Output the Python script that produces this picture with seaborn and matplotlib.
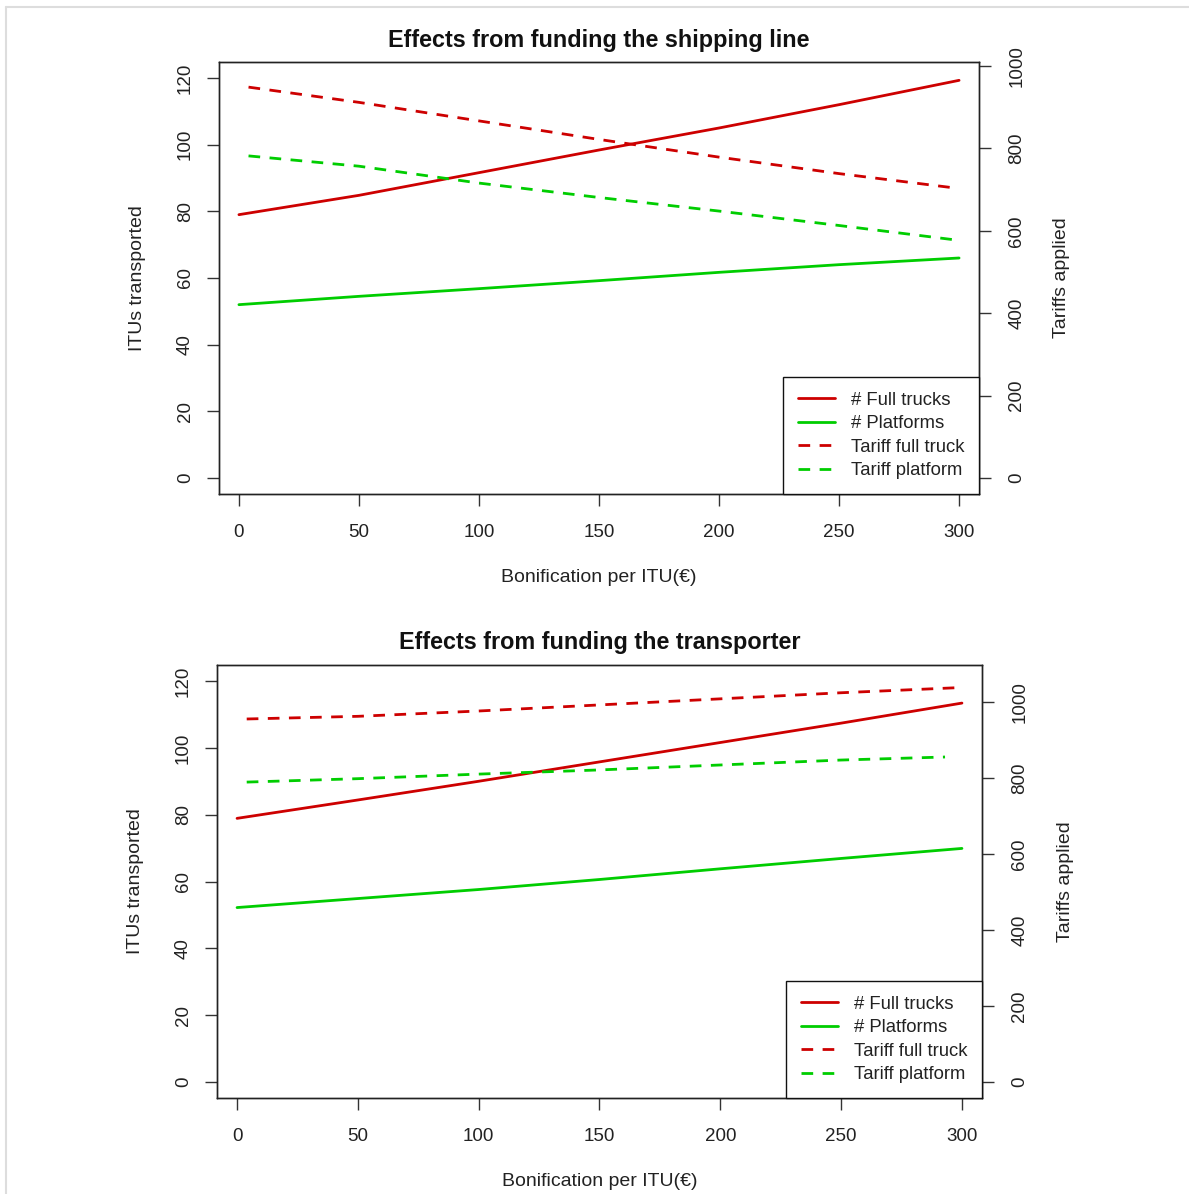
import numpy as np
import pandas as pd
import matplotlib
matplotlib.use("Agg")
import matplotlib.pyplot as plt
from matplotlib.lines import Line2D
import seaborn as sns

# --- data ---
bonus_itu = [0, 50, 100, 150, 200, 250, 300]

# panel 1: funding the shipping line
ship_trucks = [79, 84.8, 91.6, 98.4, 105, 112, 119.3]
ship_platforms = [52, 54.5, 56.8, 59.2, 61.7, 64.0, 66.0]
ship_bonus_tariff = [4, 50, 100, 150, 200, 250, 297]
ship_tariff_truck = [949, 912, 867, 822, 779, 739, 705]
ship_tariff_platform = [782, 757, 716, 681, 648, 613, 579]

# panel 2: funding the transporter
trans_trucks = [78.9, 84.4, 90.0, 95.8, 101.6, 107.4, 113.4]
trans_platforms = [52.2, 54.9, 57.6, 60.6, 63.8, 66.9, 69.9]
trans_bonus_truck = [4, 50, 100, 150, 200, 250, 297]
trans_tariff_truck = [955, 962, 976, 992, 1008, 1024, 1037]
trans_bonus_platform = [4, 50, 100, 150, 200, 250, 293]
trans_tariff_platform = [789, 798, 810, 821, 834, 847, 855]

titles = ["Effects from funding the shipping line", "Effects from funding the transporter"]
legend_labels = ["# Full trucks", "# Platforms", "Tariff full truck", "Tariff platform"]

RED = "#CD0000"
GREEN = "#00CD00"
DASH = (0, (4.2, 3.4))
LW = 2.0

sns.set_style("ticks")
plt.rcParams["font.family"] = ["Liberation Sans", "DejaVu Sans"]

W, H = 1189, 1194
fig = plt.figure(figsize=(W / 100, H / 100), dpi=100)
fig.patch.set_facecolor("white")


def px_axes(left, top, right, bottom):
    return fig.add_axes([left / W, 1 - bottom / H, (right - left) / W, (bottom - top) / H])


def draw_panel(box, title, x_itu, trucks, platforms, x_tt, tariff_truck, x_tp, tariff_platform,
               right_ylim, title_y, xlabel_y, ylabel_x, rlabel_x):
    left, top, right, bottom = box
    ax = px_axes(left, top, right, bottom)
    ax2 = ax.twinx()

    itu_df = pd.DataFrame({"bonus": x_itu, "trucks": trucks, "platforms": platforms})
    sns.lineplot(data=itu_df, x="bonus", y="trucks", color=RED, lw=LW, ax=ax)
    sns.lineplot(data=itu_df, x="bonus", y="platforms", color=GREEN, lw=LW, ax=ax)

    tt_df = pd.DataFrame({"bonus": x_tt, "tariff": tariff_truck})
    tp_df = pd.DataFrame({"bonus": x_tp, "tariff": tariff_platform})
    sns.lineplot(data=tt_df, x="bonus", y="tariff", color=RED, lw=LW, linestyle=DASH, ax=ax2)
    sns.lineplot(data=tp_df, x="bonus", y="tariff", color=GREEN, lw=LW, linestyle=DASH, ax=ax2)

    ax.set_xlim(-8.3, 308.3)
    ax.set_ylim(-4.8, 124.8)
    ax2.set_ylim(*right_ylim)
    ax.set_xticks([0, 50, 100, 150, 200, 250, 300])
    ax.set_yticks([0, 20, 40, 60, 80, 100, 120])
    ax2.set_yticks([0, 200, 400, 600, 800, 1000])
    ax.set_xlabel("")
    ax.set_ylabel("")
    ax2.set_ylabel("")

    for a in (ax, ax2):
        for s in a.spines.values():
            s.set_visible(True)
            s.set_color("#222222")
            s.set_linewidth(1.0)
        a.tick_params(length=8.5, width=1.0, color="#333333", labelsize=13.5, labelcolor="#222222")
    ax.tick_params(axis="x", pad=13)
    ax.tick_params(axis="y", labelrotation=90, pad=9.5)
    ax2.tick_params(axis="y", labelrotation=90, pad=12.5)
    for lbl in ax.get_yticklabels() + ax2.get_yticklabels():
        lbl.set_va("center")

    cx = (left + right) / 2
    fig.text(cx / W, 1 - title_y / H, title, ha="center", va="center", fontsize=16.8,
             fontweight="bold", color="#111111")
    fig.text(cx / W, 1 - xlabel_y / H, "Bonification per ITU(€)", ha="center", va="center",
             fontsize=14, color="#222222")
    cy = (top + bottom) / 2
    fig.text(ylabel_x / W, 1 - cy / H, "ITUs transported", ha="center", va="center",
             rotation=90, fontsize=14, color="#222222")
    fig.text(rlabel_x / W, 1 - cy / H, "Tariffs applied", ha="center", va="center",
             rotation=90, fontsize=14, color="#222222")

    handles = [
        Line2D([], [], color=RED, lw=LW),
        Line2D([], [], color=GREEN, lw=LW),
        Line2D([], [], color=RED, lw=LW, linestyle=DASH),
        Line2D([], [], color=GREEN, lw=LW, linestyle=DASH),
    ]
    leg = ax2.legend(handles, legend_labels, loc="lower right", bbox_to_anchor=(1, 0),
                     borderaxespad=0, fancybox=False, framealpha=1, edgecolor="#111111",
                     fontsize=13.3, handlelength=2.0, handletextpad=0.85, labelspacing=0.35,
                     borderpad=0.8)
    leg.get_frame().set_linewidth(1.0)
    for t in leg.get_texts():
        t.set_color("#222222")
    return ax, ax2


draw_panel((219, 62, 979, 494), titles[0], bonus_itu, ship_trucks, ship_platforms,
           ship_bonus_tariff, ship_tariff_truck, ship_bonus_tariff, ship_tariff_platform,
           (-39, 1010), 40, 577, 138, 1062)
draw_panel((217, 665, 982, 1098), titles[1], bonus_itu, trans_trucks, trans_platforms,
           trans_bonus_truck, trans_tariff_truck, trans_bonus_platform, trans_tariff_platform,
           (-42, 1097), 643, 1181, 136, 1066)

# faint frame of the original screenshot
fig.add_artist(Line2D([6 / W, 6 / W], [0, 1 - 7 / H], color="#dddddd", lw=1.5))
fig.add_artist(Line2D([6 / W, 1], [1 - 7 / H, 1 - 7 / H], color="#dddddd", lw=1.5))

fig.savefig("out.png", dpi=100, facecolor="white")
